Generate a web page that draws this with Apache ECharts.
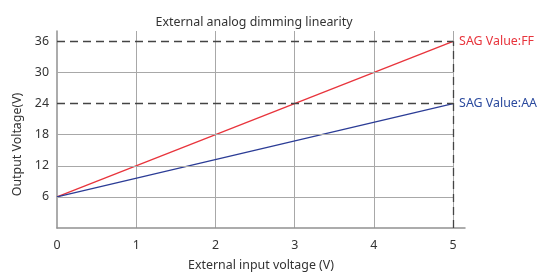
<!DOCTYPE html>
<html>
<head>
<meta charset="utf-8">
<script src="https://cdn.jsdelivr.net/npm/echarts@6/dist/echarts.min.js"></script>
<style>
  html, body { margin: 0; padding: 0; background: #fff; }
  #chart { width: 548px; height: 276px; }
</style>
</head>
<body>
<div id="chart"></div>
<script>
  // 数据
  var inputVoltage = [0, 5]
  var valueFF = [6, 36]
  var valueAA = [6, 24]
  var yGridSolid = [6, 12, 18, 30]
  var yGridDashed = [24, 36]

  var chart = echarts.init(document.getElementById('chart'))
  var font = 'Noto Sans'

  // 横向网格线（只画到 x=5）
  var gridLines = yGridSolid.map(v => [
    { coord: [0, v] },
    { coord: [5, v] }
  ])
  // 参考虚线
  var dashLines = yGridDashed.map(v => [
    { coord: [0, v] },
    { coord: [5, v] }
  ])
  dashLines.push([{ coord: [5, 0] }, { coord: [5, 36] }])

  var option = {
    animation: false,
    title: {
      text: 'External analog dimming linearity',
      left: 249,
      textAlign: 'center',
      top: 11,
      textStyle: { fontFamily: font, fontSize: 12.4, fontWeight: 'normal', color: '#333' }
    },
    grid: { left: 57, top: 31, width: 408, height: 203 },
    xAxis: {
      type: 'value',
      min: 0,
      max: 5.15,
      interval: 1,
      name: 'External input voltage (V)',
      nameLocation: 'middle',
      nameGap: 31,
      nameTextStyle: { fontFamily: font, fontSize: 12.4, color: '#333' },
      axisLine: { lineStyle: { color: '#919191', width: 1.5 } },
      axisTick: { show: false },
      axisLabel: { fontFamily: font, fontSize: 12.4, color: '#333', margin: 11, showMaxLabel: false },
      splitLine: { show: true, showMinLine: false, showMaxLine: false, lineStyle: { color: '#a8a8a8', width: 1 } }
    },
    yAxis: {
      type: 'value',
      min: 0,
      max: 38,
      interval: 6,
      name: 'Output Voltage(V)',
      nameLocation: 'middle',
      nameRotate: 90,
      nameGap: 33,
      nameTextStyle: { fontFamily: font, fontSize: 12.4, color: '#333', padding: [0, 30, 0, 0] },
      axisLine: { show: true, lineStyle: { color: '#919191', width: 1.5 } },
      axisTick: { show: false },
      axisLabel: {
        fontFamily: font, fontSize: 12.4, color: '#333', margin: 8,
        showMinLabel: false, showMaxLabel: false
      },
      splitLine: { show: false }
    },
    series: [
      {
        type: 'line',
        data: [],
        silent: true,
        markLine: {
          silent: true,
          symbol: 'none',
          label: { show: false },
          lineStyle: { color: '#a8a8a8', type: 'solid', width: 1 },
          data: gridLines
        }
      },
      {
        type: 'line',
        data: [],
        silent: true,
        markLine: {
          silent: true,
          symbol: 'none',
          label: { show: false },
          lineStyle: { color: '#444', type: [8, 5], width: 1.3 },
          data: dashLines
        }
      },
      {
        name: 'FF',
        type: 'line',
        data: inputVoltage.map((x, i) => [x, valueFF[i]]),
        showSymbol: false,
        lineStyle: { color: '#e8343c', width: 1.3 },
        itemStyle: { color: '#e8343c' },
        endLabel: {
          show: true,
          formatter: 'SAG Value:FF',
          distance: 6,
          fontFamily: font, fontSize: 12.4, color: '#e8343c'
        }
      },
      {
        name: 'AA',
        type: 'line',
        data: inputVoltage.map((x, i) => [x, valueAA[i]]),
        showSymbol: false,
        lineStyle: { color: '#2b3c96', width: 1.3 },
        itemStyle: { color: '#2b3c96' },
        endLabel: {
          show: true,
          formatter: 'SAG Value:AA',
          distance: 6,
          fontFamily: font, fontSize: 12.4, color: '#2b4a9e'
        }
      }
    ]
  }

  chart.setOption(option)
</script>
</body>
</html>
